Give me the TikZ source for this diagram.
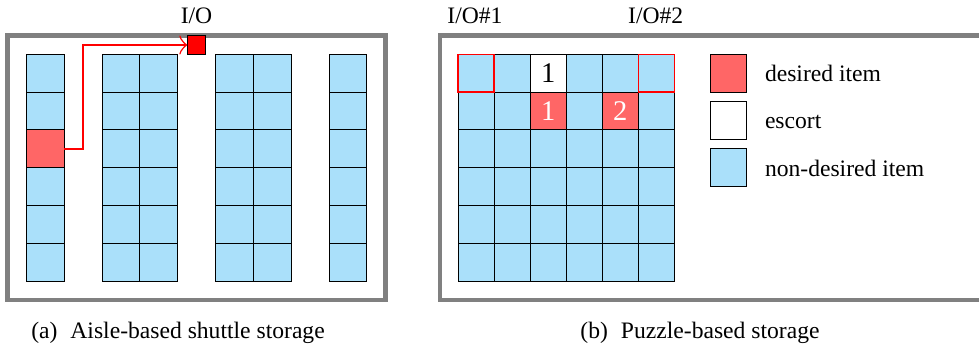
\documentclass[tikz,border=0pt]{standalone}
\usepackage{fontspec}
\setmainfont{Liberation Serif}
\usetikzlibrary{arrows.meta}
\definecolor{cellblue}{RGB}{170,224,250}
\definecolor{desired}{RGB}{255,102,102}
\definecolor{framegray}{RGB}{128,128,128}
\begin{document}
\begin{tikzpicture}[x=1pt,y=-1pt,
  txt/.style={font=\fontsize{23.6}{28}\selectfont, inner sep=0pt, outer sep=0pt},
  num/.style={font=\fontsize{28.5}{32}\selectfont},
  cell/.style={draw=black, line width=0.9pt, fill=cellblue, inner sep=0pt, outer sep=0pt,
               minimum width=37.75pt, minimum height=37.8pt, anchor=north west},
  gcell/.style={cell, minimum width=36.05pt},
  frame/.style={draw=framegray, line width=4.2pt},
  route/.style={draw=red, line width=1.5pt},
  iobox/.style={draw=red, line width=1.5pt}
]
\useasboundingbox (0,0) rectangle (979,349);
\begin{scope}
\clip (0,0) rectangle (979,349);
% frames
\draw[frame] (7.5,35.5) rectangle (385.5,300);
\draw[frame] (440.3,35.5) rectangle (990,300);
\end{scope}

% ---------- (a) aisle-based ----------
\foreach \r in {0,1,3,4,5}{
  \node[cell] (a1-\r) at (26.6,{54.3+37.8*\r}) {};
}
\node[cell, fill=desired] (a1-2) at (26.6,{54.3+37.8*2}) {};
\foreach \r in {0,...,5}{
  \node[cell] (b1-\r) at (102,{54.3+37.8*\r}) {};
  \node[cell] (b2-\r) at (139.75,{54.3+37.8*\r}) {};
  \node[cell] (c1-\r) at (215.7,{54.3+37.8*\r}) {};
  \node[cell] (c2-\r) at (253.45,{54.3+37.8*\r}) {};
  \node[cell] (d1-\r) at (329,{54.3+37.8*\r}) {};
}
\node[draw=black, fill=red, line width=0.9pt, minimum size=18.6pt, inner sep=0pt,
      outer sep=0pt, anchor=north west] (io) at (187.3,35.7) {};
\node[txt, anchor=base] (iolab) at (196.5,23) {I/O};
\draw[route, -{Classical TikZ Rightarrow[length=8pt,width=19pt]}]
  (a1-2.east) -- ++(18.7,0) |- (io.west);

% ---------- (b) puzzle-based ----------
\foreach \r in {0,...,5}{
  \foreach \c in {0,...,5}{
    \pgfmathtruncatemacro\cellkind{(\r==0 && \c==2) || (\r==1 && (\c==2 || \c==4)) ? 1 : 0}
    \ifnum\cellkind=0
      \node[gcell] (g-\r-\c) at ({458+36.05*\c},{54.3+37.8*\r}) {};
    \fi
  }
}
\node[gcell, fill=white, num] (g-0-2) at ({458+36.05*2},54.3) {1};
\node[gcell, fill=desired, num, text=white] (g-1-2) at ({458+36.05*2},{54.3+37.8}) {1};
\node[gcell, fill=desired, num, text=white] (g-1-4) at ({458+36.05*4},{54.3+37.8}) {2};
\draw[iobox] (g-0-0.north west) rectangle (g-0-0.south east);
\draw[iobox] (g-0-5.north west) rectangle (g-0-5.south east);
\node[txt, anchor=base] (io1) at (475,23) {I/O\#1};
\node[txt, anchor=base] (io2) at (655.7,23) {I/O\#2};

% legend
\node[cell, fill=desired, minimum width=36pt, minimum height=38pt] (leg1) at (710.3,54.3) {};
\node[cell, fill=white, minimum width=36pt, minimum height=38pt] (leg2) at (710.3,101.3) {};
\node[cell, fill=cellblue, minimum width=36pt, minimum height=38pt] (leg3) at (710.3,148.7) {};
\node[txt, anchor=base west] (leg1t) at (765,81.6) {desired item};
\node[txt, anchor=base west] (leg2t) at (765,128.6) {escort};
\node[txt, anchor=base west] (leg3t) at (765,176) {non-desired item};

% captions
\node[txt, anchor=base] (capa) at (178,338.3) {(a)\hspace{0.55em}Aisle-based shuttle storage};
\node[txt, anchor=base] (capb) at (700,338.3) {(b)\hspace{0.55em}Puzzle-based storage};
\end{tikzpicture}
\end{document}
